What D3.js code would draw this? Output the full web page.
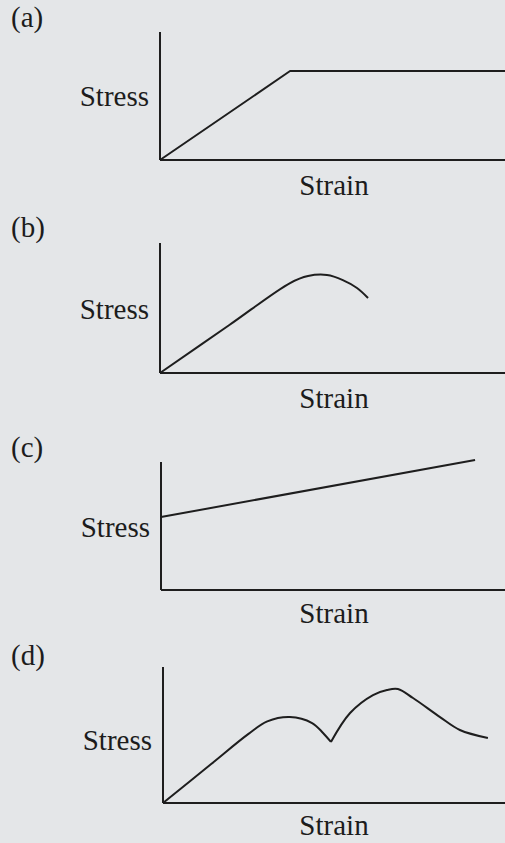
<!DOCTYPE html>
<html>
<head>
<meta charset="utf-8">
<script src="https://cdn.jsdelivr.net/npm/d3@7"></script>
<style>
  html, body { margin: 0; padding: 0; background: #e4e6e8; }
  svg { display: block; }
  text { font-family: "Liberation Serif", "DejaVu Serif", serif; fill: #1c1c1c; }
</style>
</head>
<body>
<svg id="chart" width="505" height="843"></svg>
<script>
// labels
var panelLabels = ["(a)", "(b)", "(c)", "(d)"]
var xLabel = "Strain"
var yLabel = "Stress"

// curves, in % of axis length (strain across, stress up)
var strainA = [0, 37.7, 100]
var stressA = [0, 69.5, 69.5]

var strainB = [0, 20, 37.7, 42.9, 48.4, 53.0, 57.1, 60.3]
var stressB = [0, 36.7, 69.2, 74.6, 75.4, 71.5, 65.4, 57.7]

var strainC = [0, 91.3]
var stressC = [57, 101.6]

// (d) has a sharp dip, so it is two pieces meeting there
var strainD1 = [0, 14, 25, 30.5, 37.1, 43.6, 46.8, 49.1]
var stressD1 = [0, 28.5, 50.8, 60.0, 63.2, 58.8, 51.5, 44.9]
var strainD2 = [49.1, 54.7, 61.4, 65.5, 68.7, 73.1, 81.0, 86.8, 95.0]
var stressD2 = [44.9, 66.2, 79.4, 83.1, 83.8, 77.2, 63.2, 53.7, 47.8]

// layout of each panel: axis origin and top of the y axis
var panels = [
    {label: panelLabels[0], ox: 160, oy: 160, top: 32, lab: 27, stressY: 106, strainY: 195, curves: [[strainA, stressA]], shape: d3.curveLinear},
    {label: panelLabels[1], ox: 160, oy: 373, top: 243, lab: 237, stressY: 319, strainY: 408, curves: [[strainB, stressB]], shape: d3.curveCatmullRom},
    {label: panelLabels[2], ox: 161, oy: 590, top: 462, lab: 457, stressY: 537, strainY: 623, curves: [[strainC, stressC]], shape: d3.curveLinear},
    {label: panelLabels[3], ox: 163, oy: 803, top: 667, lab: 665, stressY: 750, strainY: 835, curves: [[strainD1, stressD1], [strainD2, stressD2]], shape: d3.curveCatmullRom}
]

var svg = d3.select("svg#chart")

panels.forEach(function (p) {
    var x = d3.scaleLinear().domain([0, 100]).range([p.ox, 505])
    var y = d3.scaleLinear().domain([0, 100]).range([p.oy, p.top])
    var g = svg.append("g")

    g.append("text").attr("x", 11).attr("y", p.lab).text(p.label).style("font-size", "29px")

    // axes
    g.append("line").attr("x1", x(0)).attr("y1", y(0)).attr("x2", x(0)).attr("y2", y(100))
        .attr("stroke", "#1e1e1e").attr("stroke-width", 2)
    g.append("line").attr("x1", x(0)).attr("y1", y(0)).attr("x2", x(100)).attr("y2", y(0))
        .attr("stroke", "#1e1e1e").attr("stroke-width", 2)

    g.append("text").attr("x", p.ox - 11).attr("y", p.stressY).attr("text-anchor", "end")
        .text(yLabel).style("font-size", "29px")
    g.append("text").attr("x", 334).attr("y", p.strainY).attr("text-anchor", "middle")
        .text(xLabel).style("font-size", "29px")

    var line = d3.line()
        .x(function (d) { return x(d[0]) })
        .y(function (d) { return y(d[1]) })
        .curve(p.shape)

    p.curves.forEach(function (c) {
        var pts = c[0].map(function (v, i) { return [v, c[1][i]] })
        g.append("path").datum(pts).attr("d", line)
            .attr("fill", "none").attr("stroke", "#1e1e1e").attr("stroke-width", 2)
            .attr("stroke-linejoin", "round")
    })
})
</script>
</body>
</html>
